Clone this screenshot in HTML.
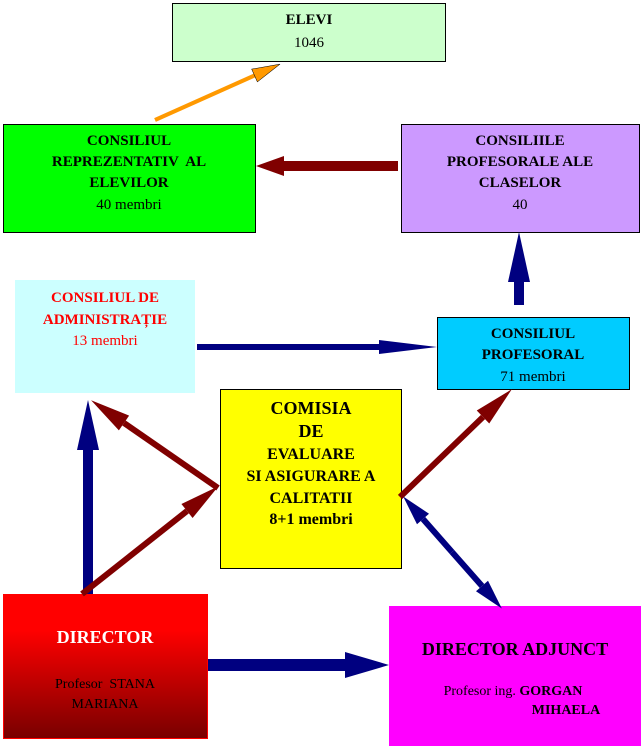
<!DOCTYPE html>
<html><head><meta charset="utf-8"><style>
body{margin:0;background:#fff;width:644px;height:750px;overflow:hidden}
svg{display:block}
text{font-family:"Liberation Serif",serif;text-anchor:middle}
.b{font-weight:bold}
</style></head><body>
<svg width="644" height="750" viewBox="0 0 644 750">
<defs>
<linearGradient id="g" x1="0" y1="0" x2="0" y2="1"><stop offset="0.25" stop-color="#ff0000"/><stop offset="1" stop-color="#780000"/></linearGradient>
<marker id="nb" markerUnits="userSpaceOnUse" markerWidth="46" markerHeight="28" refX="0" refY="14" orient="auto" overflow="visible"><path d="M0,1 L44,14 L0,27 Z" fill="#000080"/></marker>
<marker id="ns" markerUnits="userSpaceOnUse" markerWidth="60" markerHeight="16" refX="0" refY="8" orient="auto" overflow="visible"><path d="M0,1 L58,8 L0,15 Z" fill="#000080"/></marker>
<marker id="nm" markerUnits="userSpaceOnUse" markerWidth="52" markerHeight="24" refX="0" refY="12" orient="auto" overflow="visible"><path d="M0,1 L50,12 L0,23 Z" fill="#000080"/></marker>
<marker id="nd" markerUnits="userSpaceOnUse" markerWidth="32" markerHeight="18" refX="0" refY="9" orient="auto" overflow="visible"><path d="M0,1 L30,9 L0,17 Z" fill="#000080"/></marker>
<marker id="rd" markerUnits="userSpaceOnUse" markerWidth="42" markerHeight="20" refX="0" refY="10" orient="auto" overflow="visible"><path d="M0,1 L40,10 L0,19 Z" fill="#800000"/></marker>
<marker id="rb" markerUnits="userSpaceOnUse" markerWidth="30" markerHeight="22" refX="0" refY="11" orient="auto" overflow="visible"><path d="M0,1 L28,11 L0,21 Z" fill="#800000"/></marker>
<marker id="or" markerUnits="userSpaceOnUse" markerWidth="30" markerHeight="16" refX="0" refY="8" orient="auto" overflow="visible"><path d="M0,1 L28,8 L0,15 Z" fill="#ff9900" stroke="#000" stroke-width="0.5"/></marker>
</defs>

<rect x="172.5" y="3.5" width="273" height="58" fill="#ccffcc" stroke="#000"/>
<text class="b" x="309" y="24" font-size="15">ELEVI</text>
<text x="309" y="47" font-size="15">1046</text>

<rect x="3.5" y="124.5" width="252" height="108" fill="#00ff00" stroke="#000"/>
<text class="b" x="129" y="145" font-size="15">CONSILIUL</text>
<text class="b" x="129" y="166" font-size="15" xml:space="preserve">REPREZENTATIV  AL</text>
<text class="b" x="129" y="187" font-size="15">ELEVILOR</text>
<text x="129" y="209" font-size="15">40 membri</text>

<rect x="401.5" y="124.5" width="238" height="108" fill="#cc99ff" stroke="#000"/>
<text class="b" x="520" y="145" font-size="15">CONSILIILE</text>
<text class="b" x="520" y="166" font-size="15">PROFESORALE ALE</text>
<text class="b" x="520" y="187" font-size="15">CLASELOR</text>
<text x="520" y="209" font-size="15">40</text>

<rect x="15" y="280" width="180" height="113" fill="#ccffff"/>
<text class="b" x="105" y="302" font-size="15" fill="#ff0000">CONSILIUL DE</text>
<text class="b" x="105" y="324" font-size="15" fill="#ff0000">ADMINISTRAȚIE</text>
<text x="105" y="345" font-size="15" fill="#ff0000">13 membri</text>

<rect x="437.5" y="317.5" width="192" height="72" fill="#00ccff" stroke="#000"/>
<text class="b" x="533" y="338" font-size="15">CONSILIUL</text>
<text class="b" x="533" y="359" font-size="15">PROFESORAL</text>
<text x="533" y="381" font-size="15">71 membri</text>

<rect x="220.5" y="389.5" width="181" height="179" fill="#ffff00" stroke="#000"/>
<text class="b" x="311" y="414" font-size="18">COMISIA</text>
<text class="b" x="311" y="437" font-size="18">DE</text>
<text class="b" x="311" y="459" font-size="16">EVALUARE</text>
<text class="b" x="311" y="481" font-size="16">SI ASIGURARE A</text>
<text class="b" x="311" y="503" font-size="16">CALITATII</text>
<text class="b" x="311" y="524" font-size="16">8+1 membri</text>

<rect x="3.5" y="594.5" width="204" height="144" fill="url(#g)" stroke="#ff0000"/>
<text class="b" x="105" y="643" font-size="18" fill="#ffffff">DIRECTOR</text>
<text x="105" y="688" font-size="14" xml:space="preserve">Profesor  STANA</text>
<text x="105" y="708" font-size="14">MARIANA</text>

<rect x="389" y="606" width="252" height="140" fill="#ff00ff"/>
<text class="b" x="515" y="655" font-size="18">DIRECTOR ADJUNCT</text>
<text x="513" y="695" font-size="14">Profesor ing. <tspan font-weight="bold">GORGAN</tspan></text>
<text class="b" x="566" y="714" font-size="14">MIHAELA</text>

<!-- arrows -->
<line x1="155" y1="120" x2="254.5" y2="75.5" stroke="#ff9900" stroke-width="4" marker-end="url(#or)"/>
<line x1="398" y1="166" x2="284" y2="166" stroke="#800000" stroke-width="10" marker-end="url(#rb)"/>
<line x1="519" y1="305" x2="519" y2="282" stroke="#000080" stroke-width="10" marker-end="url(#nm)"/>
<line x1="197" y1="347" x2="379" y2="347" stroke="#000080" stroke-width="6" marker-end="url(#ns)"/>
<line x1="88" y1="594" x2="88" y2="450" stroke="#000080" stroke-width="10" marker-end="url(#nm)"/>
<line x1="218" y1="488" x2="124" y2="423" stroke="#800000" stroke-width="6" marker-end="url(#rd)"/>
<line x1="82" y1="594" x2="187" y2="511" stroke="#800000" stroke-width="6" marker-end="url(#rd)"/>
<line x1="400" y1="497" x2="483" y2="417" stroke="#800000" stroke-width="6" marker-end="url(#rd)"/>
<line x1="452" y1="552" x2="423" y2="519" stroke="#000080" stroke-width="6" marker-end="url(#nd)"/>
<line x1="452" y1="552" x2="482" y2="586" stroke="#000080" stroke-width="6" marker-end="url(#nd)"/>
<line x1="208" y1="665" x2="345" y2="665" stroke="#000080" stroke-width="12" marker-end="url(#nb)"/>
</svg>
</body></html>
